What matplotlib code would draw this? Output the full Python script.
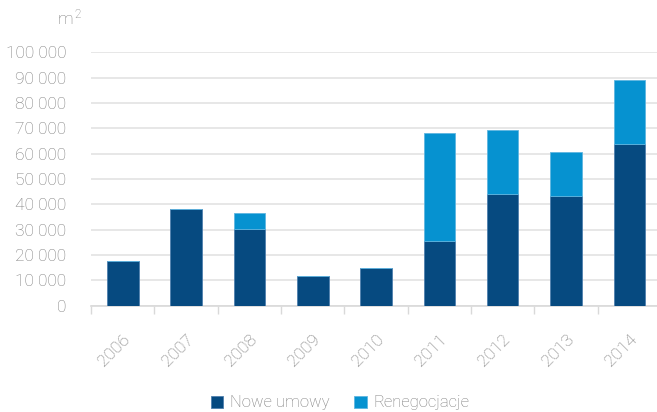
import numpy as np
import matplotlib.pyplot as plt
from matplotlib.ticker import FuncFormatter, FixedLocator

# powierzchnia najmu (m2)
years = ['2006', '2007', '2008', '2009', '2010', '2011', '2012', '2013', '2014']
nowe_umowy = [17600, 38200, 30100, 11700, 15000, 25700, 44200, 43300, 63700]
renegocjacje = [0, 0, 6400, 0, 0, 42500, 25300, 17200, 25300]

dark = '#064a80'
light = '#0692d0'
grey_txt = '#7a7a7a'

plt.rcParams['font.family'] = ['Roboto', 'DejaVu Sans']
plt.rcParams['font.weight'] = 'light'

fig = plt.figure(figsize=(6.57, 4.12), dpi=100)
ax = fig.add_axes([91 / 657, (412 - 305.7) / 412, 570 / 657, (305.7 - 52.3) / 412])

x = np.arange(len(years))
ax.bar(x, nowe_umowy, width=0.5, color=dark, edgecolor='#4f7fae', linewidth=0.6,
       label='Nowe umowy', zorder=3)
ax.bar(x, renegocjacje, width=0.5, bottom=nowe_umowy, color=light,
       edgecolor='#5fb5e0', linewidth=0.6, label='Renegocjacje', zorder=3)

ax.set_xlim(-0.5, len(years) - 0.5)
ax.set_ylim(0, 100000)
ax.set_yticks(np.arange(0, 100001, 10000))
ax.yaxis.set_major_formatter(FuncFormatter(lambda v, p: f'{int(v):,}'.replace(',', ' ')))
ax.grid(axis='y', color='#e3e3e3', linewidth=1.2, zorder=0)

ax.set_xticks(x)
ax.set_xticklabels(years, rotation=45, ha='right', rotation_mode='anchor')
ax.xaxis.set_minor_locator(FixedLocator(np.arange(-0.5, len(years), 1)))
ax.tick_params(axis='x', which='major', length=0, pad=19)
ax.tick_params(axis='x', which='minor', length=6, color='#d9d9d9', width=1)
ax.tick_params(axis='y', length=0, pad=18)
ax.tick_params(labelsize=12.5, labelcolor=grey_txt)

for side in ['top', 'right', 'left']:
    ax.spines[side].set_visible(False)
ax.spines['bottom'].set_color('#d9d9d9')
ax.spines['bottom'].set_linewidth(1.2)

# jednostka nad osią Y
fig.text(73 / 657, 1 - 19 / 412, 'm', ha='right', va='center', fontsize=12.5,
         color=grey_txt)
fig.text(74 / 657, 1 - 14 / 412, '2', ha='left', va='center', fontsize=8.5,
         color=grey_txt)

leg = fig.legend(loc='center', bbox_to_anchor=(340 / 657, 1 - 403 / 412), ncol=2,
                 frameon=False, fontsize=12, handlelength=0.75, handleheight=0.75,
                 handletextpad=0.4, columnspacing=1.5)
for t in leg.get_texts():
    t.set_color(grey_txt)

fig.savefig('out.png', dpi=100)
